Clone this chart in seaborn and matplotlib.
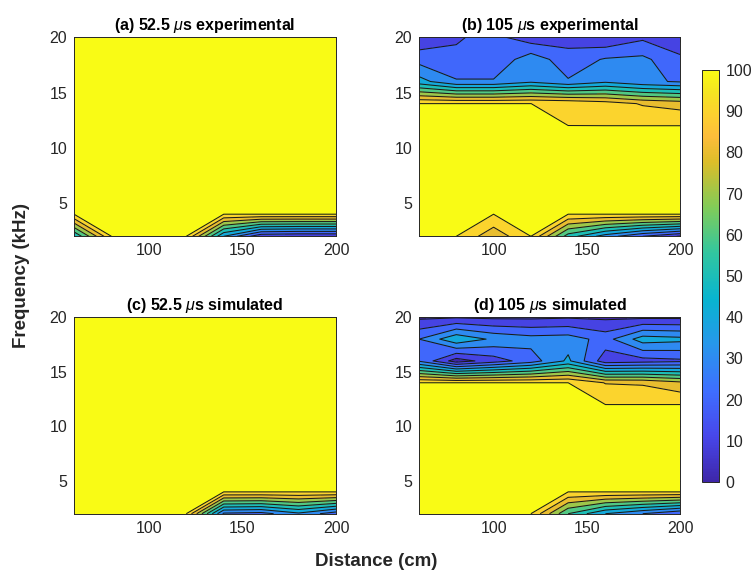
import numpy as np
import matplotlib
matplotlib.use("Agg")
import matplotlib.pyplot as plt
from matplotlib.colors import LinearSegmentedColormap, Normalize
from matplotlib.cm import ScalarMappable
import seaborn as sns

# Grid: distance along the columns, frequency along the rows
distance = [60, 80, 100, 120, 140, 160, 180, 200]          # cm
frequency = [2, 4, 6, 8, 10, 12, 14, 16, 18, 20]          # kHz

FULL = [100] * 8

# Transmission (%) for each pulse width, rows ordered from 2 kHz to 20 kHz
exp_52 = [
    [50, 100, 100, 100, 40, 12, 10, 10],
    FULL, FULL, FULL, FULL, FULL, FULL, FULL, FULL, FULL,
]

exp_105 = [
    [100, 100, 83, 100, 55, 35, 20, 9],
    FULL, FULL, FULL, FULL, FULL,
    [100, 100, 100, 100, 99, 95, 89, 86],
    [44, 31, 31, 38, 31, 38, 32, 29],
    [26, 22, 22, 36, 24, 31, 32.4, 22],
    [12, 19, 23, 14, 16, 11, 18, 13],
]

sim_52 = [
    [100, 100, 100, 100, 28, 26, 38, 24],
    FULL, FULL, FULL, FULL, FULL, FULL, FULL, FULL, FULL,
]

sim_105 = [
    [100, 100, 100, 100, 60, 40, 30, 20],
    FULL, FULL, FULL, FULL, FULL,
    [100, 100, 100, 100, 100, 89.5, 88.7, 82.6],
    [29, 5, 15, 25, 42, 14, 16, 18],
    [30, 48, 38, 34, 35, 26, 45, 43],
    [8, 9, 8, 8, 9, 8, 8, 8],
]

titles = [
    r"(a) 52.5 $\mu$s experimental",
    r"(b) 105 $\mu$s experimental",
    r"(c) 52.5 $\mu$s simulated",
    r"(d) 105 $\mu$s simulated",
]
panels = [exp_52, exp_105, sim_52, sim_105]

x_ticks = [100, 150, 200]
y_ticks = [5, 10, 15, 20]
cbar_ticks = list(range(0, 101, 10))

# ---- style -------------------------------------------------------------
sns.set_theme(style="white")
plt.rcParams["font.family"] = ["Liberation Sans", "DejaVu Sans"]
plt.rcParams["mathtext.fontset"] = "custom"
plt.rcParams["mathtext.it"] = "Liberation Sans:italic"
plt.rcParams["mathtext.rm"] = "Liberation Sans"

INK = "#262626"

# parula-like colour map
parula_pts = [
    (0.000, (0.2422, 0.1504, 0.6603)),
    (0.111, (0.2803, 0.2782, 0.9221)),
    (0.222, (0.2440, 0.4358, 0.9988)),
    (0.333, (0.1540, 0.5902, 0.9218)),
    (0.444, (0.0297, 0.7082, 0.8163)),
    (0.556, (0.1938, 0.7758, 0.6251)),
    (0.667, (0.5044, 0.7993, 0.3480)),
    (0.778, (0.8634, 0.7406, 0.1596)),
    (0.840, (0.9900, 0.7400, 0.2300)),
    (0.889, (0.9892, 0.8136, 0.1885)),
    (0.950, (0.9600, 0.9000, 0.1300)),
    (1.000, (0.9769, 0.9839, 0.0805)),
]
parula = LinearSegmentedColormap.from_list("parula", parula_pts, N=256)

line_levels = [10, 20, 30, 40, 50, 60, 70, 80, 90, 99.99]
fill_levels = [0] + line_levels + [100.01]
band_colors = [parula(v / 100) for v in range(0, 100, 10)] + [parula(1.0)]

W, H = 753, 572
fig = plt.figure(figsize=(W / 100, H / 100), dpi=100)
fig.patch.set_facecolor("white")

boxes = [
    (74, 37.3, 262, 199),
    (419, 37.3, 261, 199),
    (74, 317.3, 262, 196.4),
    (419, 317.3, 261, 196.4),
]

X, Y = np.meshgrid(distance, frequency)

for (px, py, pw, ph), data, title in zip(boxes, panels, titles):
    ax = fig.add_axes([px / W, 1 - (py + ph) / H, pw / W, ph / H])
    Z = np.array(data, dtype=float)
    ax.contourf(X, Y, Z, levels=fill_levels, colors=band_colors)
    ax.contour(X, Y, Z, levels=line_levels, colors="k", linewidths=0.75)
    ax.set_xlim(60, 200)
    ax.set_ylim(2, 20)
    ax.set_xticks(x_ticks)
    ax.set_yticks(y_ticks)
    ax.tick_params(direction="in", top=True, right=True, length=3.5,
                   width=0.6, labelsize=11.5, colors=INK, pad=5)
    for s in ax.spines.values():
        s.set_linewidth(0.7)
        s.set_color(INK)
    ax.set_title(title, fontsize=11.5, fontweight="bold", color="black", pad=5)

cax = fig.add_axes([702 / W, 1 - 482 / H, 16.5 / W, 412 / H])
cb = fig.colorbar(ScalarMappable(norm=Normalize(0, 100), cmap=parula),
                  cax=cax, ticks=cbar_ticks)
cb.ax.tick_params(direction="in", length=3.5, width=0.6, labelsize=11.5,
                  colors=INK, pad=5)
cb.outline.set_linewidth(0.7)
cb.outline.set_edgecolor(INK)

fig.text(22 / W, 1 - 276 / H, "Frequency (kHz)", rotation=90, ha="center",
         va="center", fontsize=13.5, fontweight="bold", color=INK)
fig.text(376 / W, 1 - 561 / H, "Distance (cm)", ha="center", va="center",
         fontsize=13.5, fontweight="bold", color=INK)

fig.savefig("out.png", dpi=100, facecolor="white")
